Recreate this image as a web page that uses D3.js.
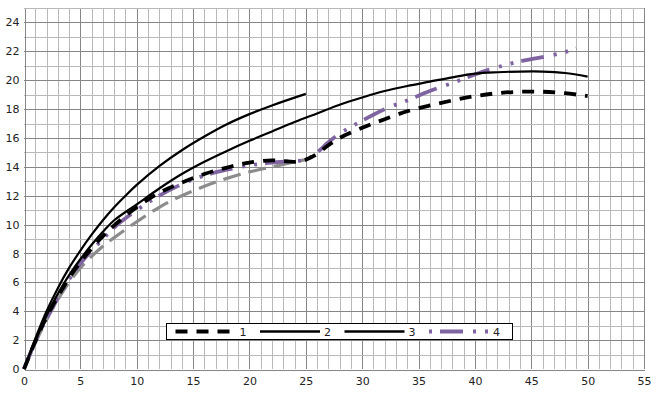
<!DOCTYPE html>
<meta charset="utf-8" />
<style>
  html, body { margin: 0; padding: 0; background: #fff; }
  #chart { width: 671px; height: 396px; font-family: "DejaVu Sans", sans-serif; }
</style>
<script src="https://d3js.org/d3.v7.min.js"></script>
<div id="chart"></div>
<script>
  // values
  const xTicks = [0, 5, 10, 15, 20, 25, 30, 35, 40, 45, 50, 55];
  const yTicks = [0, 2, 4, 6, 8, 10, 12, 14, 16, 18, 20, 22, 24];

  const s1X = [0, 1, 2, 3, 4, 5, 6, 7, 8, 10, 12, 14, 16, 18, 20, 22, 23, 24, 25, 26, 27, 28, 30, 32, 34, 36, 38, 40, 42, 44, 46, 48, 50];
  const s1Y = [0, 1.9, 3.6, 5.0, 6.3, 7.4, 8.35, 9.2, 9.95, 11.2, 12.2, 12.9, 13.5, 13.95, 14.3, 14.45, 14.4, 14.35, 14.5, 14.9, 15.5, 16.0, 16.7, 17.3, 17.85, 18.25, 18.6, 18.9, 19.1, 19.2, 19.2, 19.1, 18.9];

  const s2X = [0, 1, 2, 3, 4, 5, 6, 7, 8, 9, 10, 12, 14, 16, 18, 20, 22, 25];
  const s2Y = [0, 2.1, 4.0, 5.6, 7.0, 8.2, 9.3, 10.3, 11.2, 12.0, 12.75, 14.05, 15.15, 16.1, 16.95, 17.65, 18.25, 19.05];

  const s3X = [0, 1, 2, 3, 4, 5, 6, 7, 8, 10, 12, 14, 16, 18, 20, 22, 24, 26, 28, 30, 32, 34, 36, 38, 40, 42, 44, 46, 48, 50];
  const s3Y = [0, 1.9, 3.7, 5.2, 6.5, 7.6, 8.6, 9.5, 10.3, 11.4, 12.5, 13.5, 14.35, 15.1, 15.8, 16.45, 17.1, 17.7, 18.3, 18.8, 19.25, 19.6, 19.9, 20.2, 20.45, 20.55, 20.6, 20.6, 20.5, 20.25];

  const s4X = [0, 1, 2, 3, 4, 5, 6, 7, 8, 10, 12, 14, 16, 18, 20, 22, 24, 25, 26, 27, 28, 30, 32, 34, 36, 38, 40, 42, 44, 46, 48, 49];
  const s4Y = [0, 1.9, 3.5, 4.9, 6.2, 7.3, 8.2, 9.0, 9.8, 11.0, 12.0, 12.8, 13.4, 13.8, 14.1, 14.3, 14.4, 14.5, 15.0, 15.7, 16.3, 17.2, 18.0, 18.6, 19.25, 19.8, 20.4, 20.9, 21.3, 21.6, 21.95, 22.2];

  // grey dashed curve, not in the legend
  const s5X = [0, 1, 2, 3, 4, 5, 6, 7, 8, 10, 12, 14, 16, 18, 20, 22, 24, 25];
  const s5Y = [0, 1.8, 3.4, 4.8, 6.0, 7.0, 7.8, 8.5, 9.1, 10.2, 11.2, 12.0, 12.65, 13.2, 13.65, 14.0, 14.35, 14.5];

  const legendNames = ['1', '2', '3', '4'];

  const W = 671, H = 396;
  const margin = { top: 8, right: 27, bottom: 27, left: 24 };

  const svg = d3.select('#chart').append('svg')
    .attr('width', W).attr('height', H);

  const x = d3.scaleLinear().domain([0, 55]).range([margin.left, W - margin.right]);
  const y = d3.scaleLinear().domain([0, 25]).range([H - margin.bottom, margin.top]);

  // grid
  const grid = svg.append('g').attr('shape-rendering', 'crispEdges');
  grid.selectAll('.vx').data(d3.range(1, 56))
    .enter().append('line')
    .attr('x1', d => Math.round(x(d)) + 0.5).attr('x2', d => Math.round(x(d)) + 0.5)
    .attr('y1', y(25)).attr('y2', y(0))
    .attr('stroke', d => d % 5 === 0 ? '#868686' : '#b9b9b9');
  grid.selectAll('.hy').data(d3.range(1, 26))
    .enter().append('line')
    .attr('y1', d => Math.round(y(d)) + 0.5).attr('y2', d => Math.round(y(d)) + 0.5)
    .attr('x1', x(0)).attr('x2', x(55))
    .attr('stroke', d => d % 2 === 0 ? '#868686' : '#b9b9b9');

  // axes
  const xAxis = svg.append('g')
    .attr('transform', `translate(0,${Math.round(y(0)) + 0.5})`)
    .call(d3.axisBottom(x).tickValues(xTicks).tickSize(0).tickPadding(8));
  const yAxis = svg.append('g')
    .attr('transform', `translate(${Math.round(x(0)) + 0.5},0)`)
    .call(d3.axisLeft(y).tickValues(yTicks).tickSize(0).tickPadding(5));
  [xAxis, yAxis].forEach(a => {
    a.select('.domain').attr('stroke', '#868686').attr('shape-rendering', 'crispEdges');
    a.selectAll('text').attr('font-family', '"DejaVu Sans", sans-serif')
      .attr('font-size', 11).attr('fill', '#222');
  });

  const line = d3.line()
    .x(d => x(d[0])).y(d => y(d[1]))
    .curve(d3.curveCatmullRom.alpha(0.5));
  const zip = (xs, ys) => xs.map((v, i) => [v, ys[i]]);

  const series = [
    { pts: zip(s5X, s5Y), color: '#8c8c8c', width: 3.2, dash: '18,8' },
    { pts: zip(s4X, s4Y), color: '#8064a2', width: 3.8, dash: '23,10,3,9,3,8' },
    { pts: zip(s1X, s1Y), color: '#000', width: 3.8, dash: '12,9' },
    { pts: zip(s3X, s3Y), color: '#000', width: 2.2, dash: null },
    { pts: zip(s2X, s2Y), color: '#000', width: 2.2, dash: null }
  ];

  svg.append('g').selectAll('path').data(series).enter().append('path')
    .attr('d', d => line(d.pts))
    .attr('fill', 'none')
    .attr('stroke', d => d.color)
    .attr('stroke-width', d => d.width)
    .attr('stroke-dasharray', d => d.dash);

  // legend
  const legendStyles = [
    { color: '#000', width: 4, dash: '12,9' },
    { color: '#000', width: 2.5, dash: null },
    { color: '#000', width: 2.5, dash: null },
    { color: '#8064a2', width: 4, dash: '3,8,23,10,3,9,3' }
  ];
  const leg = svg.append('g').attr('transform', 'translate(166.5,323.5)');
  leg.append('rect').attr('width', 346).attr('height', 16)
    .attr('fill', '#fff').attr('stroke', '#000').attr('stroke-width', 1);
  const item = leg.selectAll('.item').data(legendNames).enter().append('g')
    .attr('transform', (d, i) => `translate(${9 + i * 84.5},8)`);
  item.append('line')
    .attr('x1', 0).attr('x2', 60).attr('y1', 0).attr('y2', 0)
    .attr('stroke', (d, i) => legendStyles[i].color)
    .attr('stroke-width', (d, i) => legendStyles[i].width)
    .attr('stroke-dasharray', (d, i) => legendStyles[i].dash);
  item.append('text')
    .attr('x', 64).attr('y', 4.5)
    .attr('font-size', 11).attr('fill', '#222')
    .text(d => d);
</script>
